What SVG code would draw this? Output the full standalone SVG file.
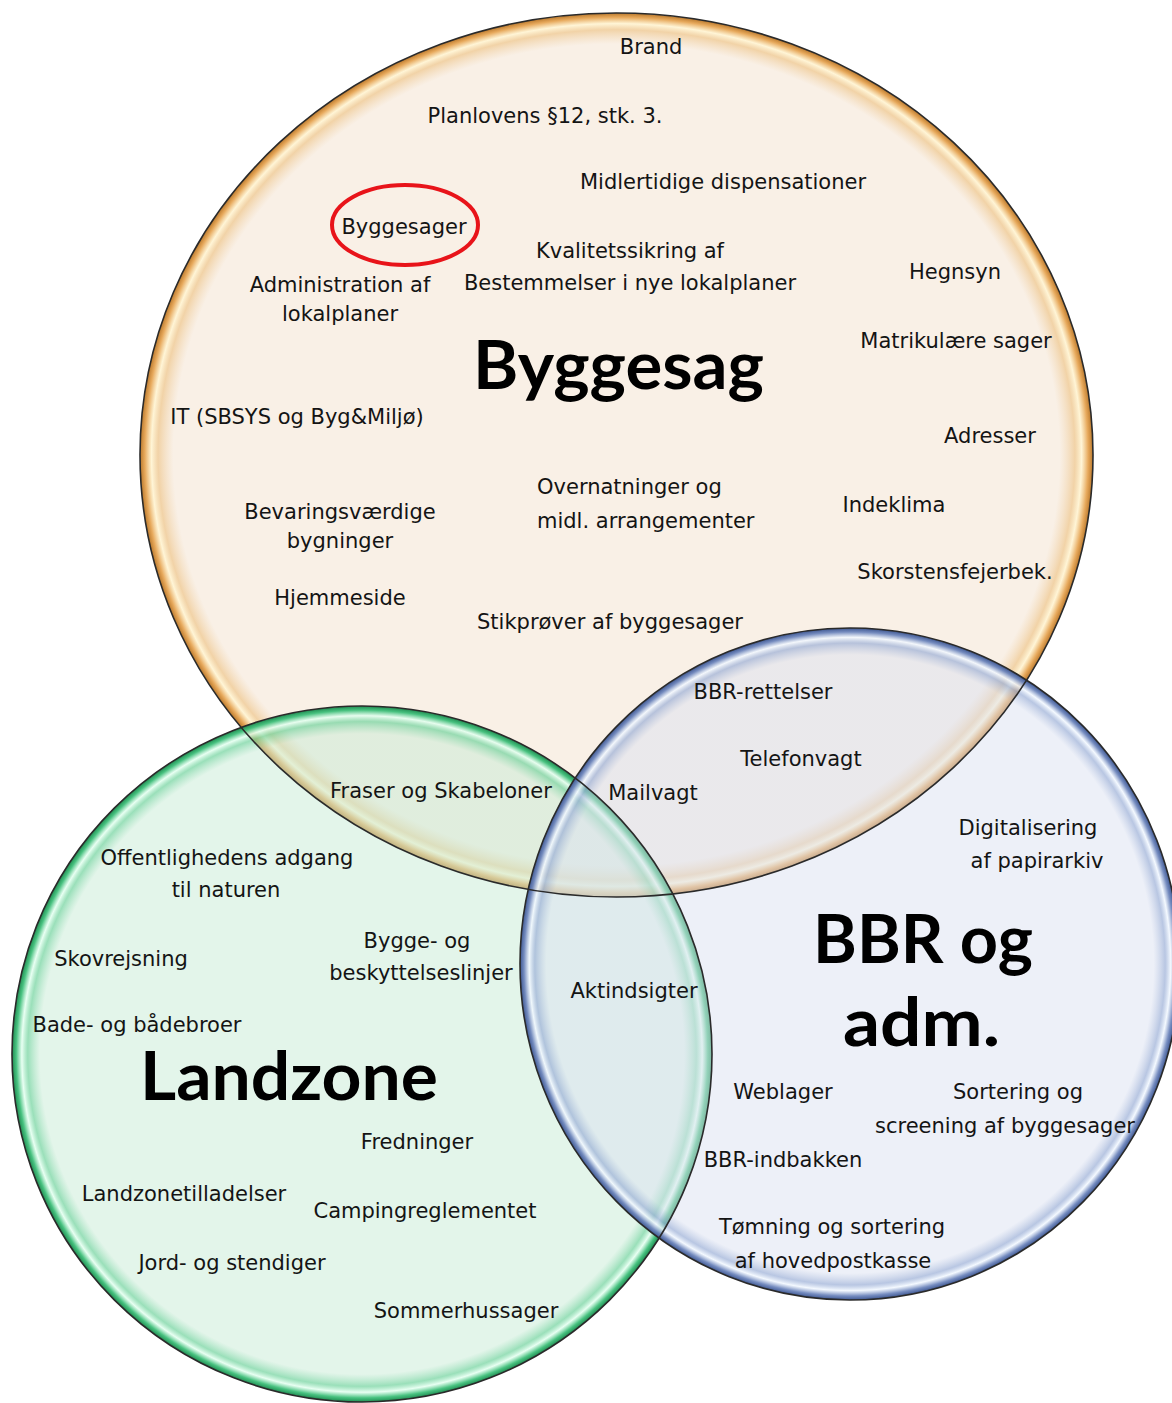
<svg xmlns="http://www.w3.org/2000/svg" width="1172" height="1403" viewBox="0 0 1172 1403">
<style>
.t{font-family:"DejaVu Sans","Liberation Sans",sans-serif;font-size:21px;fill:#141414;text-anchor:middle}
.s{text-anchor:start}
.h{font-family:Lato,"Open Sans","DejaVu Sans",sans-serif;font-weight:700;font-size:66px;fill:#000}
.ring{fill:none;stroke:#2a2a2a;stroke-width:1.6}
</style>
<defs>
<radialGradient id="gO" cx="0.5" cy="0.5" r="0.5">
<stop offset="0" stop-color="#f3e1cd" stop-opacity="0.5"/>
<stop offset="0.93" stop-color="#f3e1cd" stop-opacity="0.5"/>
<stop offset="0.962" stop-color="#edc48a" stop-opacity="0.75"/>
<stop offset="0.976" stop-color="#fff3cf" stop-opacity="0.85"/>
<stop offset="0.99" stop-color="#e6a554" stop-opacity="0.95"/>
<stop offset="1" stop-color="#b9782c" stop-opacity="1"/>
</radialGradient>
<radialGradient id="gG" cx="0.5" cy="0.5" r="0.5">
<stop offset="0" stop-color="#c7ebd5" stop-opacity="0.5"/>
<stop offset="0.92" stop-color="#c7ebd5" stop-opacity="0.5"/>
<stop offset="0.955" stop-color="#6fd29c" stop-opacity="0.7"/>
<stop offset="0.972" stop-color="#e4fff0" stop-opacity="0.85"/>
<stop offset="0.988" stop-color="#3fbf7a" stop-opacity="0.95"/>
<stop offset="1" stop-color="#1f8a50" stop-opacity="1"/>
</radialGradient>
<radialGradient id="gB" cx="0.5" cy="0.5" r="0.5">
<stop offset="0" stop-color="#dbe1f1" stop-opacity="0.5"/>
<stop offset="0.92" stop-color="#dbe1f1" stop-opacity="0.5"/>
<stop offset="0.955" stop-color="#9aaed6" stop-opacity="0.7"/>
<stop offset="0.972" stop-color="#f2f8ff" stop-opacity="0.85"/>
<stop offset="0.988" stop-color="#6f87bd" stop-opacity="0.95"/>
<stop offset="1" stop-color="#3d5690" stop-opacity="1"/>
</radialGradient>
</defs>
<rect width="1172" height="1403" fill="#fff"/>
<g id="circle-byggesag">
<ellipse cx="616.5" cy="455" rx="476.5" ry="442" fill="url(#gO)"/>
</g>
<g id="circle-landzone">
<ellipse cx="362" cy="1054" rx="350" ry="348" fill="url(#gG)"/>
</g>
<g id="circle-bbr">
<ellipse cx="850" cy="964" rx="330" ry="336" fill="url(#gB)"/>
</g>
<g id="outlines">
<ellipse class="ring" cx="616.5" cy="455" rx="476.5" ry="442"/>
<ellipse class="ring" cx="362" cy="1054" rx="350" ry="348"/>
<ellipse class="ring" cx="850" cy="964" rx="330" ry="336"/>
</g>
<g id="connectors"></g>
<g id="highlight-byggesager">
<ellipse cx="405" cy="225" rx="73" ry="40" fill="none" stroke="#e8141a" stroke-width="4"/>
</g>
<g id="headings">
<text class="h" x="473" y="389" textLength="291" lengthAdjust="spacingAndGlyphs">Byggesag</text>
<text class="h" x="813" y="963" textLength="220" lengthAdjust="spacingAndGlyphs">BBR og</text>
<text class="h" x="843" y="1046" textLength="157" lengthAdjust="spacingAndGlyphs">adm.</text>
<text class="h" x="140" y="1100" textLength="298" lengthAdjust="spacingAndGlyphs">Landzone</text>
</g>
<g id="labels-byggesag">
<text class="t" x="651" y="54">Brand</text>
<text class="t" x="545" y="123">Planlovens §12, stk. 3.</text>
<text class="t" x="723" y="189">Midlertidige dispensationer</text>
<text class="t" x="404" y="234">Byggesager</text>
<text class="t" x="630" y="258">Kvalitetssikring af</text>
<text class="t" x="630" y="290">Bestemmelser i nye lokalplaner</text>
<text class="t" x="340" y="292">Administration af</text>
<text class="t" x="340" y="321">lokalplaner</text>
<text class="t" x="955" y="279">Hegnsyn</text>
<text class="t" x="956" y="348">Matrikulære sager</text>
<text class="t" x="297" y="424">IT (SBSYS og Byg&amp;Miljø)</text>
<text class="t" x="990" y="443">Adresser</text>
<text class="t s" x="537" y="494">Overnatninger og</text>
<text class="t s" x="537" y="528">midl. arrangementer</text>
<text class="t" x="894" y="512">Indeklima</text>
<text class="t" x="340" y="519">Bevaringsværdige</text>
<text class="t" x="340" y="548">bygninger</text>
<text class="t" x="955" y="579">Skorstensfejerbek.</text>
<text class="t" x="340" y="605">Hjemmeside</text>
<text class="t" x="610" y="629">Stikprøver af byggesager</text>
</g>
<g id="labels-overlap">
<text class="t" x="763" y="699">BBR-rettelser</text>
<text class="t" x="801" y="766">Telefonvagt</text>
<text class="t" x="653" y="800">Mailvagt</text>
<text class="t" x="441" y="798">Fraser og Skabeloner</text>
<text class="t" x="634" y="998">Aktindsigter</text>
</g>
<g id="labels-bbr">
<text class="t" x="1028" y="835">Digitalisering</text>
<text class="t" x="1037" y="868">af papirarkiv</text>
<text class="t" x="783" y="1099">Weblager</text>
<text class="t" x="1018" y="1099">Sortering og</text>
<text class="t" x="1005" y="1133">screening af byggesager</text>
<text class="t" x="783" y="1167">BBR-indbakken</text>
<text class="t" x="832" y="1234">Tømning og sortering</text>
<text class="t" x="833" y="1268">af hovedpostkasse</text>
</g>
<g id="labels-landzone">
<text class="t" x="227" y="865">Offentlighedens adgang</text>
<text class="t" x="226" y="897">til naturen</text>
<text class="t" x="417" y="948">Bygge- og</text>
<text class="t" x="421" y="980">beskyttelseslinjer</text>
<text class="t" x="121" y="966">Skovrejsning</text>
<text class="t" x="137" y="1032">Bade- og bådebroer</text>
<text class="t" x="417" y="1149">Fredninger</text>
<text class="t" x="184" y="1201">Landzonetilladelser</text>
<text class="t" x="425" y="1218">Campingreglementet</text>
<text class="t" x="232" y="1270">Jord- og stendiger</text>
<text class="t" x="466" y="1318">Sommerhussager</text>
</g>
</svg>
